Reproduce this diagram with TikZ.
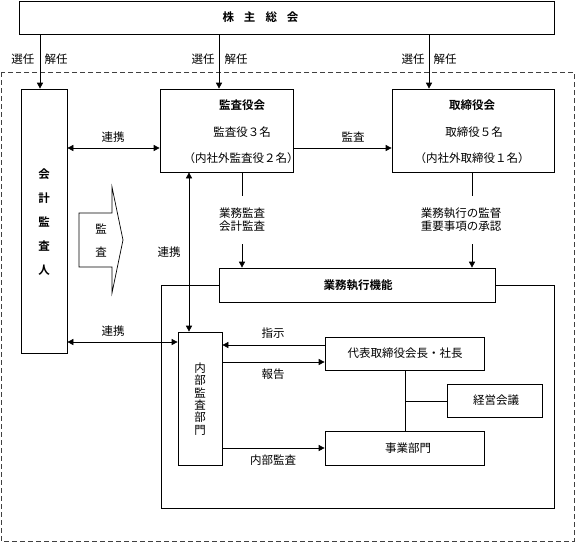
\documentclass[tikz,border=0pt]{standalone}
\usepackage{fontspec}
\setmainfont{Noto Sans CJK JP}[BoldFont={Noto Sans CJK JP Bold}]
\usetikzlibrary{arrows.meta,positioning}

\tikzset{
  box/.style={draw,fill=white,inner sep=0pt,line width=0.7pt},
  ttl/.style={font=\fontsize{11.5}{13}\selectfont\bfseries},
  lbl/.style={inner sep=1pt},
  gaplbl/.style={fill=white,align=center,inner xsep=2pt,inner ysep=12pt},
}

\begin{document}
\begin{tikzpicture}[x=1pt,y=-1pt,line width=0.7pt,>={Triangle[length=6pt,width=6pt]},
  every node/.style={font=\fontsize{11.5}{13}\selectfont}]
  \useasboundingbox (0,0) rectangle (576,542);
  \draw[dash pattern=on 5pt off 3pt,black!75] (1,72) rectangle (574,541);
  \draw (161,285) rectangle (554,508);
  % boxes
  \node[box,minimum width=535pt,minimum height=33pt] (soukai) at (286.5,17.5) {};
  \node[box,minimum width=46pt,minimum height=264pt] (kaikei) at (44,221) {};
  \node[box,minimum width=133pt,minimum height=83pt] (kansa) at (226.5,130.5) {};
  \node[box,minimum width=162pt,minimum height=83pt] (torishimari) at (473,130.5) {};
  \node[box,minimum width=276pt,minimum height=34pt] (gyomu) at (357,285) {};
  \node[box,minimum width=44pt,minimum height=133pt] (naibu) at (200,398.5) {};
  \node[box,minimum width=159pt,minimum height=33pt] (daihyo) at (404.5,353.5) {};
  \node[box,minimum width=95pt,minimum height=33pt] (keiei) at (494.5,400.5) {};
  \node[box,minimum width=159pt,minimum height=34pt] (jigyo) at (404.5,448) {};
  % texts in boxes
  \node[ttl] (soukaiT) at (260.5,17) {株\hspace{10pt}主\hspace{10pt}総\hspace{10pt}会};
  \node[ttl,align=center,font=\fontsize{11.5}{24}\selectfont\bfseries] (kaikeiT) at (44,222)
    {会\\計\\監\\査\\人};
  \node[ttl] (kansaT) at (242,105) {監査役会};
  \node (kansaA) at (242,132) {監査役３名};
  \node (kansaB) at (241,158) {（内社外監査役２名）};
  \node[ttl] (torishimariT) at (472,105) {取締役会};
  \node (torishimariA) at (474,132) {取締役５名};
  \node (torishimariB) at (472,158) {（内社外取締役１名）};
  \node[ttl] (gyomuT) at (358,285) {業務執行機能};
  \node[align=center,font=\fontsize{11.5}{12.4}\selectfont] (naibuT) at (200,399)
    {内\\部\\監\\査\\部\\門};
  \node (daihyoT) at (405,353.5) {代表取締役会長・社長};
  \node (keieiT) at (496,400.5) {経営会議};
  \node (jigyoT) at (408,448) {事業部門};
  % block arrow
  \draw[fill=white] (79,213) -- (112,213) -- (112,187) -- (123,240) -- (112,293)
    -- (112,267) -- (79,267) -- cycle;
  \node (kanT) at (101,229) {監};
  \node (saT) at (101,252) {査};
  % x and y of the connectors
  \coordinate (xa) at (40,0);
  \coordinate (xb) at (219,0);
  \coordinate (xc) at (429,0);
  \coordinate (xd) at (242,0);
  \coordinate (xe) at (472,0);
  \coordinate (xf) at (189,0);
  \coordinate (xg) at (405,0);
  \coordinate (ya) at (0,148);
  \coordinate (yb) at (0,342);
  \coordinate (yc) at (0,345);
  \coordinate (yd) at (0,362);
  \coordinate (ye) at (0,448);
  \coordinate (yf) at (0,401);
  % connectors
  \draw[->] (soukai.south -| xa) -- (kaikei.north -| xa);
  \draw[->] (soukai.south -| xb) -- (kansa.north -| xb);
  \draw[->] (soukai.south -| xc) -- (torishimari.north -| xc);
  \node[lbl] (senA) at (23,59) {選任};
  \node[lbl] (kaiA) at (56,59) {解任};
  \node[lbl] (senB) at (203,59) {選任};
  \node[lbl] (kaiB) at (236,59) {解任};
  \node[lbl] (senC) at (413,59) {選任};
  \node[lbl] (kaiC) at (445,59) {解任};
  \draw[<->] (kaikei.east |- ya) -- (kansa.west |- ya);
  \node[lbl] (renA) at (113,137) {連携};
  \draw[->] (kansa.east |- ya) -- (torishimari.west |- ya);
  \node[lbl] (kansaL) at (353,137) {監査};
  \draw[->] (kansa.south -| xd) -- (gyomu.north -| xd);
  \node[gaplbl] (gyomuL) at (242,220) {業務監査\\会計監査};
  \draw[->] (torishimari.south -| xe) -- (gyomu.north -| xe);
  \node[gaplbl] (kantokuL) at (461,220) {業務執行の監督\\重要事項の承認};
  \draw[<->] (kansa.south -| xf) -- (naibu.north -| xf);
  \node[lbl] (renB) at (169,252) {連携};
  \draw[<->] (kaikei.east |- yb) -- (naibu.west |- yb);
  \node[lbl] (renC) at (113,331) {連携};
  \draw[->] (daihyo.west |- yc) -- (naibu.east |- yc);
  \node[lbl] (shijiL) at (273,333) {指示};
  \draw[->] (naibu.east |- yd) -- (daihyo.west |- yd);
  \node[lbl] (hokokuL) at (273,374) {報告};
  \draw[->] (naibu.east |- ye) -- (jigyo.west |- ye);
  \node[lbl] (naibuL) at (273,460) {内部監査};
  \draw (daihyo.south -| xg) -- (jigyo.north -| xg);
  \draw (xg |- yf) -- (keiei.west |- yf);
\end{tikzpicture}
\end{document}
